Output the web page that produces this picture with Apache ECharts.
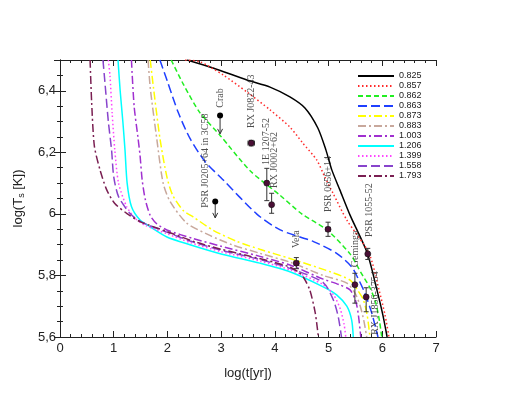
<!DOCTYPE html>
<html>
<head>
<meta charset="utf-8">
<script src="https://cdn.jsdelivr.net/npm/echarts@6/dist/echarts.min.js"></script>
<style>
  html, body { margin: 0; padding: 0; background: #fff; }
  #chart { width: 518px; height: 397px; }
</style>
</head>
<body>
<div id="chart"></div>
<script>
// legend names (star masses)
var masses = ['0.825', '0.857', '0.862', '0.863', '0.873', '0.883', '1.003', '1.206', '1.399', '1.558', '1.793'];

// cooling curves [log t, log Ts]
var c0825 = [[2.365,6.5],[2.85,6.474],[3.48,6.435],[3.91,6.412],[4.28,6.38],[4.56,6.344],[4.8,6.279],[4.95,6.208],[5.06,6.143],[5.21,6.078],[5.4,5.996],[5.72,5.873],[5.9,5.753],[6.01,5.672],[6.09,5.6]];
var c0857 = [[2.33,6.5],[2.61,6.494],[3.04,6.451],[3.48,6.396],[3.91,6.338],[4.28,6.282],[4.52,6.23],[4.78,6.175],[4.93,6.12],[5.08,6.068],[5.34,5.98],[5.75,5.873],[5.94,5.753],[6.05,5.672],[6.125,5.6]];
var c0862 = [[2.07,6.5],[2.3,6.42],[2.6,6.33],[2.98,6.255],[3.54,6.14],[4.1,6.06],[4.5,6.0],[4.97,5.948],[5.4,5.87],[5.6,5.81],[5.77,5.76],[5.88,5.71],[5.95,5.65],[5.99,5.6]];
var c0863 = [[1.86,6.5],[2.0,6.43],[2.2,6.33],[2.42,6.245],[2.7,6.17],[3.04,6.11],[3.66,6.0],[4.1,5.948],[4.72,5.91],[5.15,5.872],[5.43,5.828],[5.55,5.79],[5.67,5.745],[5.8,5.68],[5.92,5.6]];
var c0873 = [[1.68,6.5],[1.74,6.41],[1.86,6.246],[1.99,6.12],[2.1,6.06],[2.3,6.01],[2.48,5.99],[2.85,5.947],[3.3,5.91],[3.72,5.885],[4.28,5.855],[5.03,5.812],[5.4,5.785],[5.55,5.75],[5.65,5.72],[5.72,5.67],[5.77,5.6]];
var c0883 = [[1.64,6.5],[1.68,6.41],[1.8,6.246],[1.92,6.1],[2.05,6.04],[2.36,5.97],[2.79,5.93],[3.2,5.9],[3.72,5.872],[4.3,5.842],[4.9,5.8],[5.34,5.775],[5.5,5.74],[5.59,5.7],[5.66,5.65],[5.71,5.6]];
var c1003 = [[1.33,6.5],[1.38,6.35],[1.45,6.25],[1.49,6.19],[1.53,6.11],[1.59,6.045],[1.68,5.995],[1.8,5.968],[2.0,5.947],[2.48,5.92],[3.0,5.895],[3.72,5.862],[4.28,5.834],[4.9,5.788],[5.2,5.77],[5.4,5.753],[5.5,5.72],[5.55,5.678],[5.6,5.6]];
var c1206 = [[1.08,6.5],[1.12,6.4],[1.17,6.3],[1.21,6.208],[1.25,6.1],[1.33,6.024],[1.49,5.98],[1.68,5.958],[1.99,5.925],[2.42,5.9],[3.0,5.87],[3.72,5.84],[4.28,5.812],[4.9,5.763],[5.15,5.737],[5.34,5.7],[5.43,5.655],[5.46,5.6]];
var c1399 = [[0.9,6.5],[0.93,6.45],[0.97,6.33],[1.02,6.208],[1.09,6.1],[1.24,6.024],[1.4,5.985],[1.6,5.962],[2.0,5.935],[2.42,5.907],[3.0,5.877],[3.72,5.847],[4.3,5.817],[4.9,5.77],[5.1,5.735],[5.22,5.69],[5.29,5.64],[5.32,5.6]];
var c1558 = [[0.8,6.5],[0.84,6.42],[0.9,6.3],[0.96,6.208],[1.0,6.121],[1.09,6.056],[1.3,6.002],[1.5,5.975],[2.0,5.94],[2.42,5.912],[3.0,5.882],[3.72,5.852],[4.3,5.822],[4.9,5.777],[5.09,5.72],[5.18,5.666],[5.24,5.6]];
var c1793 = [[0.56,6.5],[0.59,6.36],[0.64,6.22],[0.745,6.143],[0.87,6.078],[1.02,6.034],[1.24,6.002],[1.49,5.975],[2.0,5.942],[2.5,5.91],[3.0,5.885],[3.5,5.864],[4.0,5.842],[4.28,5.827],[4.45,5.81],[4.53,5.795],[4.65,5.753],[4.75,5.68],[4.81,5.6]];
var curves = [c0825, c0857, c0862, c0863, c0873, c0883, c1003, c1206, c1399, c1558, c1793];

// observed pulsars: [log t, log Ts, Ts low, Ts high, t low, t high]
var obsNames = ['RX J0822-43', '1E 1207-52', 'RX J0002+62', 'Vela', 'PSR 0656+14', 'Geminga', 'PSR 1055-52', 'RX J1856-3754'];
var obsPoints = [
  [3.56, 6.23, 6.221, 6.239, 3.5, 3.62],
  [3.85, 6.10, 6.043, 6.148, 3.82, 3.88],
  [3.94, 6.03, 6.002, 6.067, 3.92, 3.96],
  [4.40, 5.84, 5.822, 5.858, 4.36, 4.44],
  [4.99, 5.95, 5.927, 5.973, 4.95, 5.03],
  [5.49, 5.77, 5.71, 5.807, 5.46, 5.52],
  [5.73, 5.87, 5.852, 5.888, 5.7, 5.76],
  [5.70, 5.73, 5.682, 5.76, 5.67, 5.73]
];
var obsLabelAt = [[3.56, 6.279], [3.84, 6.159], [4.0, 6.084], [4.40, 5.889], [5.0, 6.006], [5.49, 5.827], [5.76, 5.925], [5.87, 5.607]];

// upper limits: [log t, log Ts, arrow end]
var limNames = ['Crab', 'PSR J0205+64 in 3C58'];
var limPoints = [[2.98, 6.32, 6.26], [2.89, 6.04, 5.987]];
var limLabelAt = [[2.98, 6.345], [2.70, 6.02]];

var styles = [
  { color: '#000000', type: 'solid' },
  { color: '#ff2a2a', type: [1.5, 2.5] },
  { color: '#22ee22', type: [5, 3] },
  { color: '#1f3fff', type: [9, 4] },
  { color: '#ffff00', type: [8, 3, 2, 3] },
  { color: '#c8a89c', type: [8, 3, 2, 3] },
  { color: '#a030d0', type: [8, 3, 2, 3] },
  { color: '#00ffff', type: 'solid' },
  { color: '#ff44ff', type: [1.5, 2.5] },
  { color: '#8844cc', type: [9, 4] },
  { color: '#7a1f52', type: [8, 3, 2, 3] }
];

var chart = echarts.init(document.getElementById('chart'), null, { renderer: 'canvas' });

var series = [];
curves.forEach(function (c, i) {
  series.push({
    name: masses[i],
    type: 'line',
    data: c,
    smooth: 0.25,
    symbol: 'none',
    z: 2,
    lineStyle: { color: styles[i].color, type: styles[i].type, width: 1.5 },
    itemStyle: { color: styles[i].color }
  });
});

function errBars(params, api) {
  var x = api.value(0), y = api.value(1);
  var p = api.coord([x, y]);
  var lo = api.coord([x, api.value(2)]);
  var hi = api.coord([x, api.value(3)]);
  var l = api.coord([api.value(4), y]);
  var r = api.coord([api.value(5), y]);
  var c = 2.5;
  var st = { stroke: '#333', lineWidth: 1 };
  return {
    type: 'group',
    children: [
      { type: 'line', shape: { x1: p[0], y1: lo[1], x2: p[0], y2: hi[1] }, style: st },
      { type: 'line', shape: { x1: p[0] - c, y1: lo[1], x2: p[0] + c, y2: lo[1] }, style: st },
      { type: 'line', shape: { x1: p[0] - c, y1: hi[1], x2: p[0] + c, y2: hi[1] }, style: st },
      { type: 'line', shape: { x1: l[0], y1: p[1], x2: r[0], y2: p[1] }, style: st },
      { type: 'line', shape: { x1: l[0], y1: p[1] - c, x2: l[0], y2: p[1] + c }, style: st },
      { type: 'line', shape: { x1: r[0], y1: p[1] - c, x2: r[0], y2: p[1] + c }, style: st }
    ]
  };
}

function arrows(params, api) {
  var p = api.coord([api.value(0), api.value(1)]);
  var e = api.coord([api.value(0), api.value(2)]);
  var st = { stroke: '#333', lineWidth: 1, fill: null };
  return {
    type: 'group',
    children: [
      { type: 'line', shape: { x1: p[0], y1: p[1], x2: e[0], y2: e[1] }, style: st },
      { type: 'polyline', shape: { points: [[e[0] - 2.5, e[1] - 5], [e[0], e[1]], [e[0] + 2.5, e[1] - 5]] }, style: st }
    ]
  };
}

series.push({ type: 'custom', renderItem: errBars, data: obsPoints, z: 5, silent: true });
series.push({ type: 'custom', renderItem: arrows, data: limPoints, z: 5, silent: true });
series.push({
  type: 'scatter', data: obsPoints.map(function (d) { return [d[0], d[1]]; }),
  symbolSize: 6, z: 6,
  itemStyle: { color: '#4a0f35', borderColor: '#111', borderWidth: 0.6, opacity: 1 }
});
series.push({
  type: 'scatter', data: limPoints.map(function (d) { return [d[0], d[1]]; }),
  symbolSize: 6, z: 6, itemStyle: { color: '#000', opacity: 1 }
});

var labelData = obsLabelAt.map(function (d, i) { return { value: d, name: obsNames[i] }; })
  .concat(limLabelAt.map(function (d, i) { return { value: d, name: limNames[i] }; }));
series.push({
  type: 'scatter', data: labelData, symbolSize: 0, z: 7, silent: true,
  label: {
    show: true, position: 'inside', formatter: '{b}', rotate: 90,
    align: 'left', verticalAlign: 'middle',
    fontFamily: 'Liberation Serif', fontSize: 10, color: '#222'
  }
});

var tickCommon = { inside: true, length: 6, lineStyle: { color: '#222' } };
var minorCommon = { show: true, length: 3, lineStyle: { color: '#222' } };

chart.setOption({
  animation: false,
  backgroundColor: '#fff',
  grid: { left: 60, right: 82, top: 60, bottom: 60 },
  legend: {
    data: masses, orient: 'vertical', left: 352, top: 66,
    itemWidth: 36, itemHeight: 10, itemGap: 0,
    itemStyle: { opacity: 0 },
    textStyle: { fontFamily: 'Liberation Sans', fontSize: 9, color: '#222', lineHeight: 10 }
  },
  xAxis: [{
    type: 'value', min: 0, max: 7, interval: 1,
    name: 'log(t[yr])', nameLocation: 'middle', nameGap: 30,
    nameTextStyle: { fontFamily: 'Liberation Sans', fontSize: 13, color: '#222' },
    axisLine: { lineStyle: { color: '#222' } },
    axisTick: tickCommon, minorTick: Object.assign({ splitNumber: 5 }, minorCommon),
    axisLabel: { fontFamily: 'Liberation Sans', fontSize: 13, color: '#222', margin: 5 },
    splitLine: { show: false }
  }, {
    type: 'value', min: 0, max: 7, interval: 1, position: 'top',
    axisLine: { lineStyle: { color: '#222' } },
    axisTick: tickCommon, minorTick: Object.assign({ splitNumber: 5 }, minorCommon),
    axisLabel: { show: false }, splitLine: { show: false }
  }],
  yAxis: [{
    type: 'value', min: 5.6, max: 6.5, interval: 0.2,
    name: '{a|log(T}{s|s}{a| [K])}', nameLocation: 'middle', nameGap: 34,
    nameTextStyle: {
      rich: {
        a: { fontFamily: 'Liberation Sans', fontSize: 13, color: '#222' },
        s: { fontFamily: 'Liberation Sans', fontSize: 9, color: '#222', verticalAlign: 'bottom', padding: [6, 0, 0, 0] }
      }
    },
    axisLine: { lineStyle: { color: '#222' } },
    axisTick: tickCommon, minorTick: Object.assign({ splitNumber: 4 }, minorCommon),
    axisLabel: {
      fontFamily: 'Liberation Sans', fontSize: 13, color: '#222', margin: 4,
      formatter: function (v) {
        if (v > 6.45) return '';
        return String(+v.toFixed(1)).replace('.', ',');
      }
    },
    splitLine: { show: false }
  }, {
    type: 'value', min: 5.6, max: 6.5, interval: 0.2, position: 'right',
    axisLine: { lineStyle: { color: '#222' } },
    axisTick: tickCommon, minorTick: Object.assign({ splitNumber: 4 }, minorCommon),
    axisLabel: { show: false }, splitLine: { show: false }
  }],
  series: series
});
</script>
</body>
</html>
